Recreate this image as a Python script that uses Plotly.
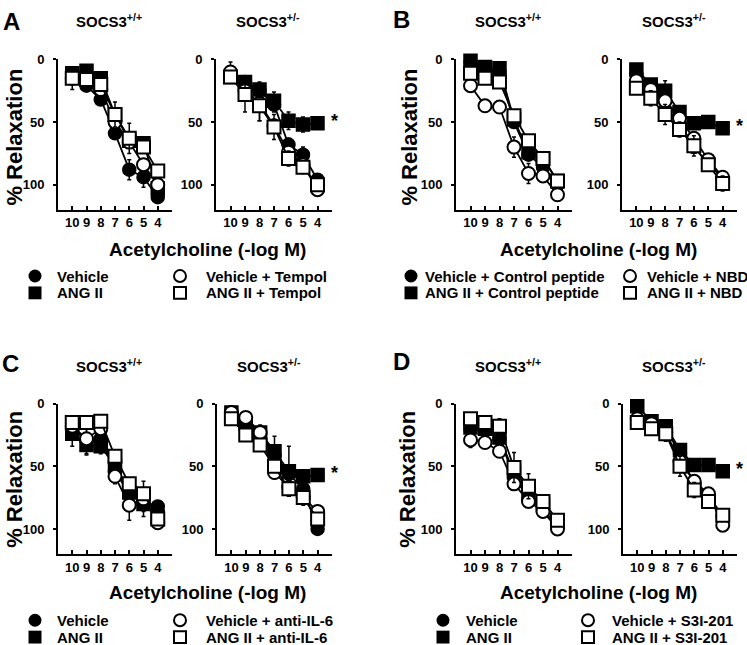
import plotly.graph_objects as go

W, H = 747, 645
FONT = "Liberation Sans, Arial, sans-serif"

# ---------------- data ----------------
doses = [10, 9, 8, 7, 6, 5, 4]
x_tick_text = ["10", "9", "8", "7", "6", "5", "4"]
x_end_ticks = [11, 3]
y_tick_vals = [0, 50, 100]
y_tick_text = ["0", "50", "100"]

panel_letters = ["A", "B", "C", "D"]
genotypes = ["SOCS3<sup>+/+</sup>", "SOCS3<sup>+/-</sup>"]
x_title = "Acetylcholine (-log M)"
y_title = "% Relaxation"

# Panel A (Tempol)
A_WT_VEH = [15, 21, 32, 59, 88, 94, 110]
A_WT_VEH_ERR = [3, 3, 3, 3, 8, 8, 4]
A_WT_ANG = [11, 9, 15, 44, 65, 67, 103]
A_WT_ANG_ERR = [3, 3, 3, 3, 4, 3, 3]
A_WT_VEHT = [15, 16, 24, 50, 66, 84, 100]
A_WT_VEHT_ERR = [9, 3, 3, 4, 4, 4, 3]
A_WT_ANGT = [15, 16, 20, 44, 63, 70, 89]
A_WT_ANGT_ERR = [4, 3, 3, 10, 12, 3, 3]

A_KO_VEH = [11, 18, 25, 36, 68, 76, 96]
A_KO_VEH_ERR = [3, 4, 4, 6, 5, 6, 4]
A_KO_ANG = [14, 18, 24, 33, 49, 52, 51]
A_KO_ANG_ERR = [3, 5, 6, 7, 7, 6, 3]
A_KO_VEHT = [10, 25, 35, 53, 74, 84, 104]
A_KO_VEHT_ERR = [8, 4, 14, 5, 5, 4, 3]
A_KO_ANGT = [14, 28, 37, 54, 79, 86, 100]
A_KO_ANGT_ERR = [5, 14, 12, 10, 6, 5, 4]

# Panel B (NBD)
B_WT_VEH = [2, 8, 10, 50, 76, 86, 100]
B_WT_VEH_ERR = [3, 4, 4, 3, 3, 3, 3]
B_WT_ANG = [1, 6, 7, 48, 74, 79, 97]
B_WT_ANG_ERR = [5, 5, 5, 4, 4, 3, 3]
B_WT_VEHT = [21, 37, 38, 70, 91, 93, 108]
B_WT_VEHT_ERR = [5, 3, 3, 8, 8, 3, 3]
B_WT_ANGT = [11, 15, 18, 45, 65, 79, 97]
B_WT_ANGT_ERR = [3, 3, 3, 3, 3, 3, 3]

B_KO_VEH = [12, 21, 40, 50, 70, 83, 95]
B_KO_VEH_ERR = [3, 4, 5, 4, 4, 4, 4]
B_KO_ANG = [8, 20, 25, 42, 51, 50, 55]
B_KO_ANG_ERR = [3, 4, 8, 4, 4, 3, 3]
B_KO_VEHT = [17, 24, 33, 47, 63, 80, 94]
B_KO_VEHT_ERR = [4, 4, 4, 4, 4, 4, 4]
B_KO_ANGT = [23, 31, 44, 56, 69, 84, 99]
B_KO_ANGT_ERR = [4, 6, 8, 6, 8, 4, 6]

# Panel C (anti-IL-6)
C_WT_VEH = [20, 29, 28, 54, 72, 80, 82]
C_WT_VEH_ERR = [6, 12, 8, 4, 4, 6, 4]
C_WT_ANG = [24, 33, 34, 50, 71, 80, 90]
C_WT_ANG_ERR = [10, 4, 6, 3, 4, 3, 4]
C_WT_VEHT = [18, 28, 20, 58, 81, 76, 95]
C_WT_VEHT_ERR = [8, 12, 6, 6, 12, 14, 5]
C_WT_ANGT = [15, 15, 14, 42, 64, 72, 92]
C_WT_ANGT_ERR = [4, 4, 3, 3, 4, 4, 4]

C_KO_VEH = [7, 15, 24, 41, 56, 68, 100]
C_KO_VEH_ERR = [3, 3, 4, 4, 5, 4, 3]
C_KO_ANG = [7, 16, 23, 38, 54, 58, 57]
C_KO_ANG_ERR = [3, 4, 6, 12, 20, 4, 3]
C_KO_VEHT = [7, 11, 23, 55, 67, 75, 86]
C_KO_VEHT_ERR = [3, 3, 4, 5, 5, 5, 4]
C_KO_ANGT = [12, 25, 33, 50, 68, 75, 92]
C_KO_ANGT_ERR = [3, 5, 5, 4, 6, 6, 4]

# Panel D (S3I-201)
D_WT_VEH = [20, 21, 28, 58, 76, 84, 98]
D_WT_VEH_ERR = [3, 3, 3, 3, 3, 3, 3]
D_WT_ANG = [19, 20, 27, 55, 72, 81, 95]
D_WT_ANG_ERR = [4, 4, 4, 4, 4, 3, 3]
D_WT_VEHT = [29, 31, 38, 64, 78, 86, 100]
D_WT_VEHT_ERR = [6, 3, 3, 3, 3, 3, 3]
D_WT_ANGT = [12, 15, 18, 51, 66, 78, 93]
D_WT_ANGT_ERR = [3, 3, 6, 12, 10, 5, 3]

D_KO_VEH = [14, 15, 20, 40, 64, 73, 90]
D_KO_VEH_ERR = [4, 4, 4, 4, 4, 4, 4]
D_KO_ANG = [2, 14, 18, 37, 49, 49, 54]
D_KO_ANG_ERR = [3, 3, 3, 3, 3, 3, 3]
D_KO_VEHT = [12, 16, 23, 46, 62, 72, 97]
D_KO_VEHT_ERR = [8, 4, 4, 4, 4, 4, 3]
D_KO_ANGT = [15, 20, 24, 50, 69, 78, 89]
D_KO_ANGT_ERR = [4, 3, 6, 8, 6, 4, 3]

legend_A = ["Vehicle", "ANG II", "Vehicle + Tempol", "ANG II + Tempol"]
legend_B = ["Vehicle + Control peptide", "ANG II + Control peptide", "Vehicle + NBD", "ANG II + NBD"]
legend_C = ["Vehicle", "ANG II", "Vehicle + anti-IL-6", "ANG II + anti-IL-6"]
legend_D = ["Vehicle", "ANG II", "Vehicle + S3I-201", "ANG II + S3I-201"]

# ---------------- layout geometry (pixels) ----------------
def fx(px):
    return px / W

def fy(py):
    return 1 - py / H

col_spans = [
    [(58, 172), (216, 332), (456, 572), (622, 737)],
    [(58, 172), (217, 332), (456, 572), (623, 737)],
]
row_spans = [(53, 205), (401, 553)]

panels = [
    (0, 0, [(A_WT_VEH, A_WT_VEH_ERR), (A_WT_ANG, A_WT_ANG_ERR), (A_WT_VEHT, A_WT_VEHT_ERR), (A_WT_ANGT, A_WT_ANGT_ERR)]),
    (0, 1, [(A_KO_VEH, A_KO_VEH_ERR), (A_KO_ANG, A_KO_ANG_ERR), (A_KO_VEHT, A_KO_VEHT_ERR), (A_KO_ANGT, A_KO_ANGT_ERR)]),
    (0, 2, [(B_WT_VEH, B_WT_VEH_ERR), (B_WT_ANG, B_WT_ANG_ERR), (B_WT_VEHT, B_WT_VEHT_ERR), (B_WT_ANGT, B_WT_ANGT_ERR)]),
    (0, 3, [(B_KO_VEH, B_KO_VEH_ERR), (B_KO_ANG, B_KO_ANG_ERR), (B_KO_VEHT, B_KO_VEHT_ERR), (B_KO_ANGT, B_KO_ANGT_ERR)]),
    (1, 0, [(C_WT_VEH, C_WT_VEH_ERR), (C_WT_ANG, C_WT_ANG_ERR), (C_WT_VEHT, C_WT_VEHT_ERR), (C_WT_ANGT, C_WT_ANGT_ERR)]),
    (1, 1, [(C_KO_VEH, C_KO_VEH_ERR), (C_KO_ANG, C_KO_ANG_ERR), (C_KO_VEHT, C_KO_VEHT_ERR), (C_KO_ANGT, C_KO_ANGT_ERR)]),
    (1, 2, [(D_WT_VEH, D_WT_VEH_ERR), (D_WT_ANG, D_WT_ANG_ERR), (D_WT_VEHT, D_WT_VEHT_ERR), (D_WT_ANGT, D_WT_ANGT_ERR)]),
    (1, 3, [(D_KO_VEH, D_KO_VEH_ERR), (D_KO_ANG, D_KO_ANG_ERR), (D_KO_VEHT, D_KO_VEHT_ERR), (D_KO_ANGT, D_KO_ANGT_ERR)]),
]

styles = [
    dict(symbol="circle", color="black", line=dict(color="black", width=1.5)),
    dict(symbol="square", color="black", line=dict(color="black", width=1.5)),
    dict(symbol="circle", color="white", line=dict(color="black", width=2)),
    dict(symbol="square", color="white", line=dict(color="black", width=2)),
]
MSIZE = 13

fig = go.Figure()
layout = dict(
    width=W, height=H, autosize=False,
    margin=dict(l=0, r=0, t=0, b=0),
    paper_bgcolor="white", plot_bgcolor="white",
    showlegend=False,
    font=dict(family=FONT, color="black"),
)
annotations = []
shapes = []

for i, (row, col, sets) in enumerate(panels):
    n = i + 1
    xa = "x" if n == 1 else f"x{n}"
    ya = "y" if n == 1 else f"y{n}"
    x0, x1 = col_spans[row][col]
    y0, y1 = row_spans[row]
    layout[f"xaxis{'' if n == 1 else n}"] = dict(
        domain=[fx(x0), fx(x1)], anchor=ya, range=[11, 3],
        showline=True, linecolor="black", linewidth=2,
        showgrid=False, zeroline=False,
        ticks="inside", ticklen=4, tickwidth=1.5, tickcolor="black",
        tickvals=doses, ticktext=x_tick_text,
        minor=dict(tickvals=x_end_ticks, ticks="inside", ticklen=4, tickwidth=1.5,
                   tickcolor="black", showgrid=False),
        tickfont=dict(family=FONT, size=13, color="black", weight="bold"),
        ticklabelstandoff=0, fixedrange=True,
    )
    layout[f"yaxis{'' if n == 1 else n}"] = dict(
        domain=[fy(y1), fy(y0)], anchor=xa, range=[120, 0],
        showline=True, linecolor="black", linewidth=2,
        showgrid=False, zeroline=False,
        ticks="outside", ticklen=3, tickwidth=1.5, tickcolor="black",
        tickvals=y_tick_vals, ticktext=y_tick_text,
        tickfont=dict(family=FONT, size=13, color="black", weight="bold"),
        ticklabelstandoff=6, fixedrange=True,
    )
    for (vals, errs), st in zip(sets, styles):
        fig.add_trace(go.Scatter(
            x=doses, y=vals, xaxis=xa, yaxis=ya,
            mode="lines+markers", cliponaxis=False,
            line=dict(color="black", width=1.8),
            marker=dict(symbol=st["symbol"], size=MSIZE, color=st["color"], line=st["line"]),
            error_y=dict(type="data", array=errs, visible=True, color="black", thickness=1.5, width=2),
        ))
    annotations.append(dict(
        text=f"<b>{genotypes[col % 2]}</b>", xref="paper", yref="paper",
        x=fx((x0 + x1) / 2 - 6), y=fy(row_spans[row][0] - 39),
        xanchor="center", yanchor="middle", showarrow=False,
        font=dict(family=FONT, size=15, color="black"),
    ))
    if col % 2 == 1:
        ang_vals = sets[1][0]
        annotations.append(dict(
            text="<b>*</b>", xref=xa, yref=ya, x=doses[-1], y=ang_vals[-1],
            xshift=17, yshift=2, xanchor="center", yanchor="middle", showarrow=False,
            font=dict(family=FONT, size=18, color="black"),
        ))

letter_pos = [(11, 15), (401, 13), (10, 360), (401, 358)]
ylab_pos = [(15, 132), (410, 132), (15, 478), (408, 478)]
xtitle_pos = [(207, 245), (598, 245), (207, 592), (598, 592)]
legend_rows = [(272, 289), (272, 289), (620, 637), (620, 637)]
legend_cols = [
    ((35, 55), (180, 204)),
    ((411, 423), (630, 645)),
    ((35, 55), (180, 204)),
    ((443, 464), (588, 610)),
]
legends = [legend_A, legend_B, legend_C, legend_D]

for k in range(4):
    lx, ly = letter_pos[k]
    annotations.append(dict(text=f"<b>{panel_letters[k]}</b>", xref="paper", yref="paper",
                            x=fx(lx), y=fy(ly), xanchor="center", yanchor="middle",
                            showarrow=False, font=dict(family=FONT, size=24, color="black")))
    yx, yy = ylab_pos[k]
    annotations.append(dict(text=f"<b>{y_title}</b>", xref="paper", yref="paper",
                            x=fx(yx), y=fy(yy), xanchor="center", yanchor="middle", textangle=-90,
                            showarrow=False, font=dict(family=FONT, size=22, color="black")))
    tx, ty = xtitle_pos[k]
    annotations.append(dict(text=f"<b>{x_title}</b>", xref="paper", yref="paper",
                            x=fx(tx), y=fy(ty), xanchor="center", yanchor="middle",
                            showarrow=False, font=dict(family=FONT, size=19, color="black")))
    labels = legends[k]
    for j in range(4):
        c = j // 2
        r = j % 2
        mx, tx0 = legend_cols[k][c]
        py = legend_rows[k][r]
        filled = (j < 2)
        circle = (j % 2 == 0)
        s = 6.5 if filled else 6
        shapes.append(dict(
            type="circle" if circle else "rect", xref="paper", yref="paper",
            x0=fx(mx - s), x1=fx(mx + s), y0=fy(py + s), y1=fy(py - s),
            fillcolor="black" if filled else "white",
            line=dict(color="black", width=0 if filled else 2),
        ))
        annotations.append(dict(text=f"<b>{labels[j]}</b>", xref="paper", yref="paper",
                                x=fx(tx0), y=fy(py), xanchor="left", yanchor="middle",
                                showarrow=False, font=dict(family=FONT, size=15, color="black")))

layout["annotations"] = annotations
layout["shapes"] = shapes
fig.update_layout(**layout)
fig.write_html("out.html", config={"displayModeBar": False},
               post_script="document.body.style.margin='0';document.body.style.padding='0';")
